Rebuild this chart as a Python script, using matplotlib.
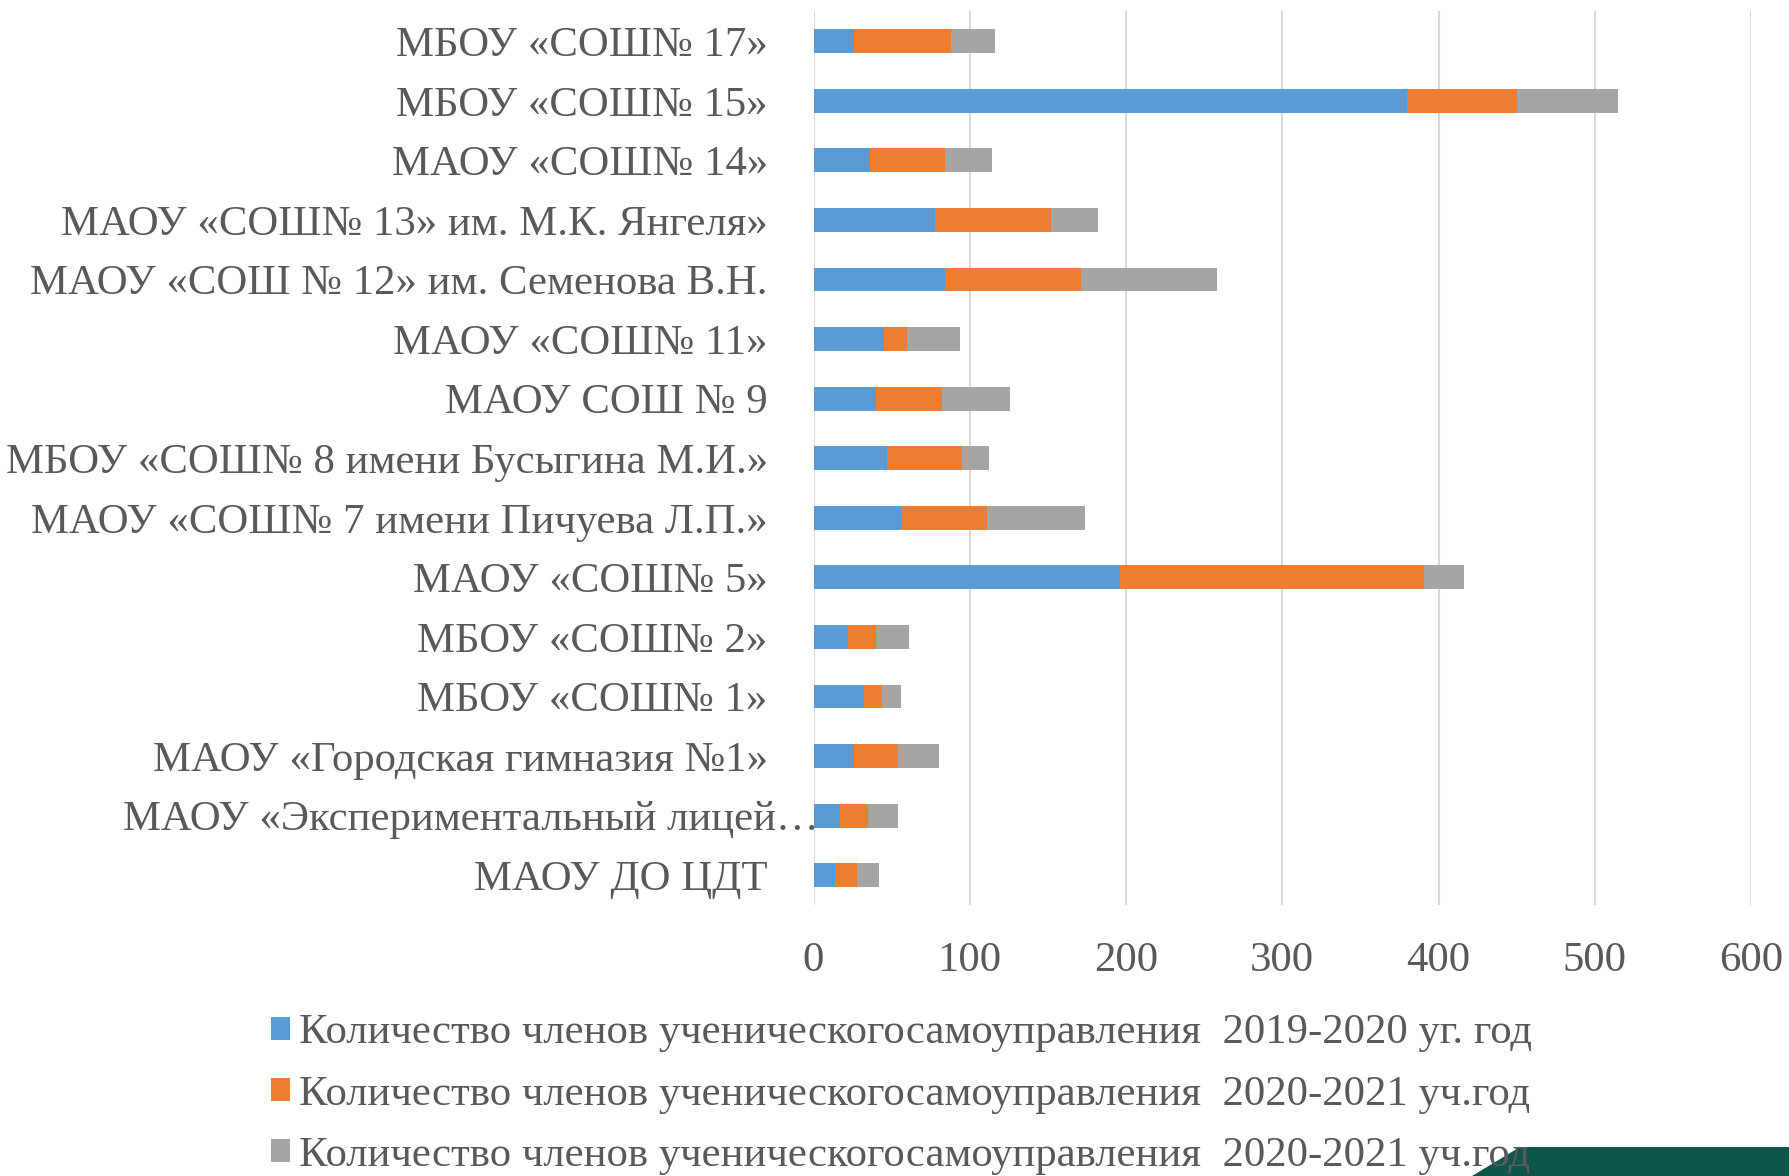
import matplotlib
matplotlib.use("Agg")
import matplotlib.pyplot as plt
from matplotlib.patches import Patch, Polygon
import numpy as np

plt.rcParams['font.family'] = ['Liberation Serif', 'DejaVu Serif']

categories = [
    "МБОУ «СОШ№ 17»",
    "МБОУ «СОШ№ 15»",
    "МАОУ «СОШ№ 14»",
    "МАОУ «СОШ№ 13» им. М.К. Янгеля»",
    "МАОУ «СОШ № 12» им. Семенова В.Н.",
    "МАОУ «СОШ№ 11»",
    "МАОУ СОШ № 9",
    "МБОУ «СОШ№ 8 имени Бусыгина М.И.»",
    "МАОУ «СОШ№ 7 имени Пичуева Л.П.»",
    "МАОУ «СОШ№ 5»",
    "МБОУ «СОШ№ 2»",
    "МБОУ «СОШ№ 1»",
    "МАОУ «Городская гимназия №1»",
    "МАОУ «Экспериментальный лицей…",
    "МАОУ ДО ЦДТ",
]
s2019 = [26, 380, 36, 78, 84, 45, 40, 47, 56, 196, 22, 32, 26, 17, 14]
s2020a = [62, 70, 48, 74, 87, 15, 42, 48, 55, 195, 18, 12, 28, 18, 14]
s2020b = [28, 65, 30, 30, 87, 34, 44, 17, 63, 25, 21, 12, 26, 19, 14]
series_labels = [
    "Количество членов ученическогосамоуправления  2019-2020 уг. год",
    "Количество членов ученическогосамоуправления  2020-2021 уч.год",
    "Количество членов ученическогосамоуправления  2020-2021 уч.год",
]
colors = ["#5B9BD5", "#ED7D31", "#A5A5A5"]
xticks = [0, 100, 200, 300, 400, 500, 600]

W, H = 1789, 1176
FS = 30.8
fig = plt.figure(figsize=(W / 100, H / 100), dpi=100)
ax = fig.add_axes([813.5 / W, 1 - 905 / H, (1751 - 813.5) / W, (905 - 11.4) / H])

txt = "#595959"
y = np.arange(len(categories))
left = np.zeros(len(categories))
for vals, c, lab in zip([s2019, s2020a, s2020b], colors, series_labels):
    v = np.array(vals, dtype=float)
    ax.barh(y, v, left=left, height=0.4, color=c, label=lab, zorder=3)
    left += v

ax.set_ylim(len(categories) - 0.5, -0.5)
ax.set_xlim(0, 600)
ax.set_xticks(xticks)
ax.set_xticklabels([str(t) for t in xticks])
ax.set_yticks(y)
ax.set_yticklabels(categories)
for s in ax.spines.values():
    s.set_visible(False)
ax.grid(axis='x', color="#D9D9D9", linewidth=1.5, zorder=0)
ax.tick_params(axis='both', length=0, colors=txt, labelsize=FS)
ax.tick_params(axis='y', pad=33)
ax.tick_params(axis='x', pad=26)
ticks = ax.yaxis.get_major_ticks()
ticks[13].set_pad(-4)

handles = [Patch(facecolor=c) for c in colors]
leg = fig.legend(handles, series_labels, loc='upper left',
                 bbox_to_anchor=(271 / W, 1 - 1014 / H), frameon=False,
                 fontsize=FS, labelcolor=txt, handlelength=0.45, handleheight=0.45,
                 handletextpad=0.2, labelspacing=0.53, borderaxespad=0, borderpad=0)

# decorative slide band at bottom right
poly = Polygon([(1472 / W, 0), (1520 / W, 1 - 1147 / H), (1.0, 1 - 1147 / H), (1.0, 0)],
               closed=True, transform=fig.transFigure, facecolor="#0E564A",
               edgecolor="none", zorder=5)
fig.patches.append(poly)

fig.savefig("out.png", dpi=100)
